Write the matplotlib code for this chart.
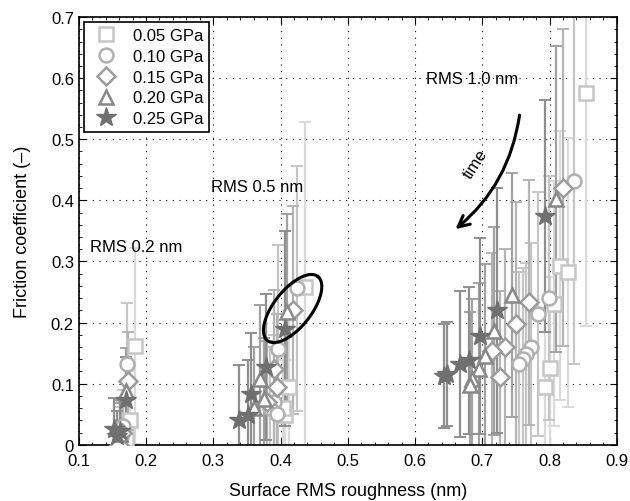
import matplotlib.pyplot as plt
import numpy as np

plt.rcParams['font.family'] = ['Liberation Sans', 'DejaVu Sans']

labels = ['0.05 GPa', '0.10 GPa', '0.15 GPa', '0.20 GPa', '0.25 GPa']
markers = ['s', 'o', 'D', '^', '*']
colors = ['#c6c6c6', '#b0b0b0', '#9c9c9c', '#888888', '#707070']
bar_colors = ['#dadada', '#c6c6c6', '#b4b4b4', '#a2a2a2', '#8e8e8e']

# roughness (nm), friction coefficient, error bar half-length
x_005 = [0.183, 0.176, 0.170, 0.436, 0.413, 0.407, 0.403,
         0.854, 0.815, 0.827, 0.807, 0.800, 0.793]
y_005 = [0.162, 0.040, 0.010, 0.258, 0.094, 0.048, 0.060,
         0.575, 0.293, 0.282, 0.231, 0.125, 0.094]
e_005 = [0.160, 0.080, 0.050, 0.270, 0.120, 0.090, 0.100,
         0.380, 0.220, 0.220, 0.200, 0.150, 0.130]

x_010 = [0.172, 0.166, 0.163, 0.424, 0.396, 0.390, 0.385, 0.395,
         0.837, 0.799, 0.783, 0.773, 0.765, 0.760, 0.755]
y_010 = [0.132, 0.030, 0.012, 0.256, 0.157, 0.070, 0.060, 0.050,
         0.432, 0.240, 0.214, 0.160, 0.148, 0.140, 0.132]
e_010 = [0.100, 0.060, 0.050, 0.200, 0.170, 0.110, 0.100, 0.100,
         0.300, 0.200, 0.200, 0.170, 0.150, 0.150, 0.150]

x_015 = [0.173, 0.165, 0.160, 0.419, 0.390, 0.395, 0.380,
         0.820, 0.770, 0.750, 0.734, 0.714, 0.726]
y_015 = [0.105, 0.020, 0.000, 0.220, 0.124, 0.094, 0.070,
         0.421, 0.233, 0.198, 0.160, 0.154, 0.111]
e_015 = [0.080, 0.050, 0.040, 0.170, 0.130, 0.120, 0.100,
         0.260, 0.200, 0.200, 0.160, 0.160, 0.140]

x_020 = [0.170, 0.162, 0.410, 0.370, 0.375, 0.360,
         0.809, 0.744, 0.718, 0.704, 0.695, 0.685, 0.682]
y_020 = [0.088, 0.018, 0.217, 0.108, 0.075, 0.060,
         0.402, 0.245, 0.186, 0.146, 0.124, 0.108, 0.098]
e_020 = [0.070, 0.050, 0.160, 0.120, 0.100, 0.100,
         0.250, 0.200, 0.170, 0.150, 0.140, 0.130, 0.120]

x_025 = [0.170, 0.152, 0.162, 0.157, 0.406, 0.378, 0.356, 0.351, 0.339,
         0.793, 0.722, 0.696, 0.680, 0.667, 0.648, 0.643]
y_025 = [0.074, 0.026, 0.023, 0.015, 0.190, 0.127, 0.083, 0.048, 0.040,
         0.375, 0.220, 0.178, 0.138, 0.132, 0.116, 0.112]
e_025 = [0.070, 0.050, 0.050, 0.040, 0.160, 0.120, 0.100, 0.090, 0.090,
         0.190, 0.200, 0.160, 0.120, 0.120, 0.085, 0.085]

xs = [x_005, x_010, x_015, x_020, x_025]
ys = [y_005, y_010, y_015, y_020, y_025]
es = [e_005, e_010, e_015, e_020, e_025]

# ellipse around the 0.5 nm group: centre and two half-axis vectors
ell_c = (0.418, 0.223)
ell_u = (0.038, 0.052)
ell_v = (0.021, -0.020)

fig = plt.figure(figsize=(6.3, 5.02), dpi=100)
ax = fig.add_axes([0.125, 0.112, 0.854, 0.852])

handles = []
for i in range(5):
    ax.errorbar(xs[i], ys[i], yerr=es[i], fmt='none', ecolor=bar_colors[i],
                elinewidth=1.6, capsize=4, capthick=1.4, zorder=2 + i * 0.1)
    if markers[i] == '*':
        h = ax.plot(xs[i], ys[i], linestyle='none', marker='*', ms=15,
                    mfc=colors[i], mec=colors[i], mew=1.0, zorder=4)[0]
    else:
        ms = 9 if markers[i] == 'D' else 10
        h = ax.plot(xs[i], ys[i], linestyle='none', marker=markers[i], ms=ms,
                    mfc='white', mec=colors[i], mew=1.8, zorder=3 + i * 0.1)[0]
    handles.append(h)

t = np.linspace(0, 2 * np.pi, 200)
ex = ell_c[0] + ell_u[0] * np.cos(t) + ell_v[0] * np.sin(t)
ey = ell_c[1] + ell_u[1] * np.cos(t) + ell_v[1] * np.sin(t)
ax.plot(ex, ey, color='black', lw=2.2, zorder=6)

ax.annotate('', xy=(0.657, 0.350), xytext=(0.756, 0.544),
            arrowprops=dict(arrowstyle='->', color='black', lw=2.2,
                            mutation_scale=20,
                            connectionstyle='arc3,rad=-0.2'), zorder=6)
ax.text(0.690, 0.460, 'time', rotation=57, fontsize=12,
        ha='center', va='center')

ax.text(0.116, 0.325, 'RMS 0.2 nm', fontsize=12, va='center')
ax.text(0.297, 0.422, 'RMS 0.5 nm', fontsize=12, va='center')
ax.text(0.616, 0.599, 'RMS 1.0 nm', fontsize=12, va='center')

ax.set_xlim(0.1, 0.9)
ax.set_ylim(0, 0.7)
ax.set_xticks(np.arange(0.1, 0.91, 0.1))
ax.set_xticklabels(['0.1', '0.2', '0.3', '0.4', '0.5', '0.6', '0.7', '0.8', '0.9'])
ax.set_yticks(np.arange(0, 0.71, 0.1))
ax.set_yticklabels(['0', '0.1', '0.2', '0.3', '0.4', '0.5', '0.6', '0.7'])
ax.set_xticks(np.arange(0.1, 0.9, 0.02), minor=True)
ax.set_yticks(np.arange(0, 0.7, 0.02), minor=True)
ax.tick_params(which='both', direction='in', top=True, right=True, labelsize=12)
ax.tick_params(axis='x', pad=6)
ax.tick_params(which='major', length=5)
ax.tick_params(which='minor', length=2.5)
ax.grid(True, which='major', linestyle=(0, (1, 5)), color='black', lw=0.8)
ax.set_axisbelow(True)
for s in ax.spines.values():
    s.set_linewidth(1.2)

ax.set_xlabel('Surface RMS roughness (nm)', fontsize=13, labelpad=10)
ax.set_ylabel('Friction coefficient (\u2013)', fontsize=13, labelpad=14)

leg = ax.legend(handles, labels, loc='upper left', fontsize=12,
                fancybox=False, framealpha=1, edgecolor='black',
                borderaxespad=0.3, handletextpad=0.6, labelspacing=0.35,
                borderpad=0.35)
leg.get_frame().set_linewidth(1.2)
leg.set_zorder(10)

fig.savefig('out.png', dpi=100)
